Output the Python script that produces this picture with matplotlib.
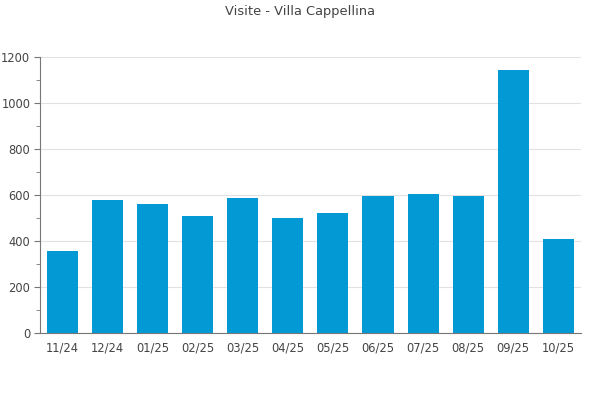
import matplotlib
matplotlib.use('Agg')
import matplotlib.pyplot as plt
from matplotlib.ticker import MultipleLocator

months = ['11/24', '12/24', '01/25', '02/25', '03/25', '04/25',
          '05/25', '06/25', '07/25', '08/25', '09/25', '10/25']
visits = [358, 580, 562, 510, 588, 501, 523, 597, 606, 597, 1145, 410]

fig = plt.figure(figsize=(6, 4), dpi=100)
ax = fig.add_axes([0.0667, 0.1675, 0.9013, 0.69])

x = list(range(len(months)))
ax.bar(x, visits, width=0.69, color='#0399d5', zorder=2)

ax.set_xlim(-0.5, len(months) - 0.5)
ax.set_ylim(0, 1200)
ax.set_xticks(x)
ax.set_xticklabels(months)
ax.yaxis.set_major_locator(MultipleLocator(200))
ax.yaxis.set_minor_locator(MultipleLocator(100))

ax.grid(axis='y', color='#e2e2e2', linewidth=0.8, zorder=0)
for s in ['top', 'right']:
    ax.spines[s].set_visible(False)
for s in ['left', 'bottom']:
    ax.spines[s].set_color('#777777')
    ax.spines[s].set_linewidth(0.8)

ax.tick_params(axis='x', length=0, pad=6, labelsize=8.3, labelcolor='#444444')
ax.tick_params(axis='y', which='major', length=4, color='#777777',
               labelsize=8.3, labelcolor='#444444', pad=3)
ax.tick_params(axis='y', which='minor', length=3, color='#777777')

fig.text(0.5, 0.97, 'Visite - Villa Cappellina', ha='center', va='center',
         fontsize=9.4, color='#444444')

fig.savefig('out.png', dpi=100)
